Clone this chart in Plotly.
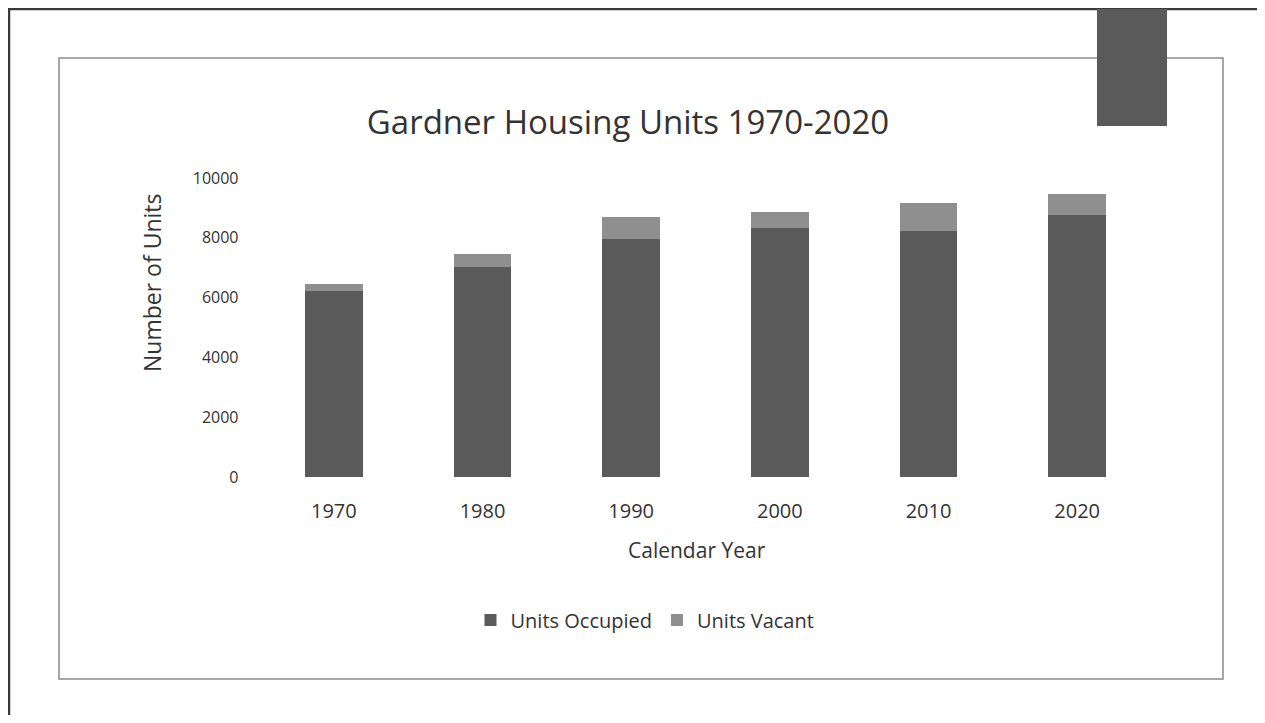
import plotly.graph_objects as go

years = ["1970", "1980", "1990", "2000", "2010", "2020"]
units_occupied = [6230, 7030, 7970, 8330, 8230, 8770]
units_vacant = [240, 440, 730, 530, 930, 700]
y_ticks = [0, 2000, 4000, 6000, 8000, 10000]

# page has an 8px body margin; figure sized to fit the 1265x723 window
OFF = 8
W, H = 1265 - 2 * OFF, 723 - 2 * OFF
def px(x): return (x - OFF) / W
def py(y): return (H - (y - OFF)) / H

FONT = "Open Sans"
TXT = "#333333"
fig = go.Figure()
fig.add_trace(go.Bar(x=years, y=units_occupied, name="Units Occupied",
                     marker=dict(color="#5a5a5a", line=dict(width=0))))
fig.add_trace(go.Bar(x=years, y=units_vacant, name="Units Vacant",
                     marker=dict(color="#8f8f8f", line=dict(width=0))))

shapes = [
    dict(type="line", xref="paper", yref="paper", x0=0, x1=1, y0=py(9), y1=py(9),
         line=dict(color="#3a3a3a", width=2.5)),
    dict(type="line", xref="paper", yref="paper", x0=px(9), x1=px(9), y0=py(8), y1=0,
         line=dict(color="#3a3a3a", width=2.5)),
    dict(type="rect", xref="paper", yref="paper", x0=px(59), x1=px(1223), y0=py(679), y1=py(58),
         line=dict(color="#8a8a8a", width=1.5), fillcolor="rgba(0,0,0,0)"),
    dict(type="rect", xref="paper", yref="paper", x0=px(1097), x1=px(1167), y0=py(126), y1=py(9),
         line=dict(width=0), fillcolor="#5a5a5a"),
]

annotations = [
    dict(text="Number of Units", xref="paper", yref="paper", x=px(152), y=py(283),
         xanchor="center", yanchor="middle", textangle=-90, showarrow=False,
         font=dict(size=23, color=TXT, family=FONT)),
    dict(text="Calendar Year", xref="paper", yref="paper", x=px(697), y=py(550),
         xanchor="center", yanchor="middle", showarrow=False,
         font=dict(size=21, color=TXT, family=FONT)),
]

fig.update_layout(
    width=W, height=H,
    margin=dict(l=0, r=0, t=0, b=0, autoexpand=False),
    paper_bgcolor="white", plot_bgcolor="white",
    barmode="stack", bargap=0.61,
    font=dict(family=FONT, color=TXT, size=15),
    title=dict(text="Gardner Housing Units 1970-2020", x=px(628), xanchor="center",
               y=py(122), yanchor="middle", font=dict(size=33, color=TXT, family=FONT)),
    xaxis=dict(domain=[px(259.5), px(1151.5)], showline=False, showgrid=False, ticks="",
               automargin=False, tickfont=dict(size=20), ticklabelstandoff=20),
    yaxis=dict(domain=[py(477), py(178)], range=[0, 10000], tickvals=y_ticks,
               tickformat="d", automargin=False,
               showgrid=False, zeroline=False, showline=False, ticks="",
               tickfont=dict(size=16), ticklabelstandoff=20),
    legend=dict(orientation="h", x=px(645), xanchor="center", y=py(620), yanchor="middle",
                font=dict(size=20), traceorder="normal"),
    annotations=annotations,
    shapes=shapes,
)
fig.write_html("out.html")
